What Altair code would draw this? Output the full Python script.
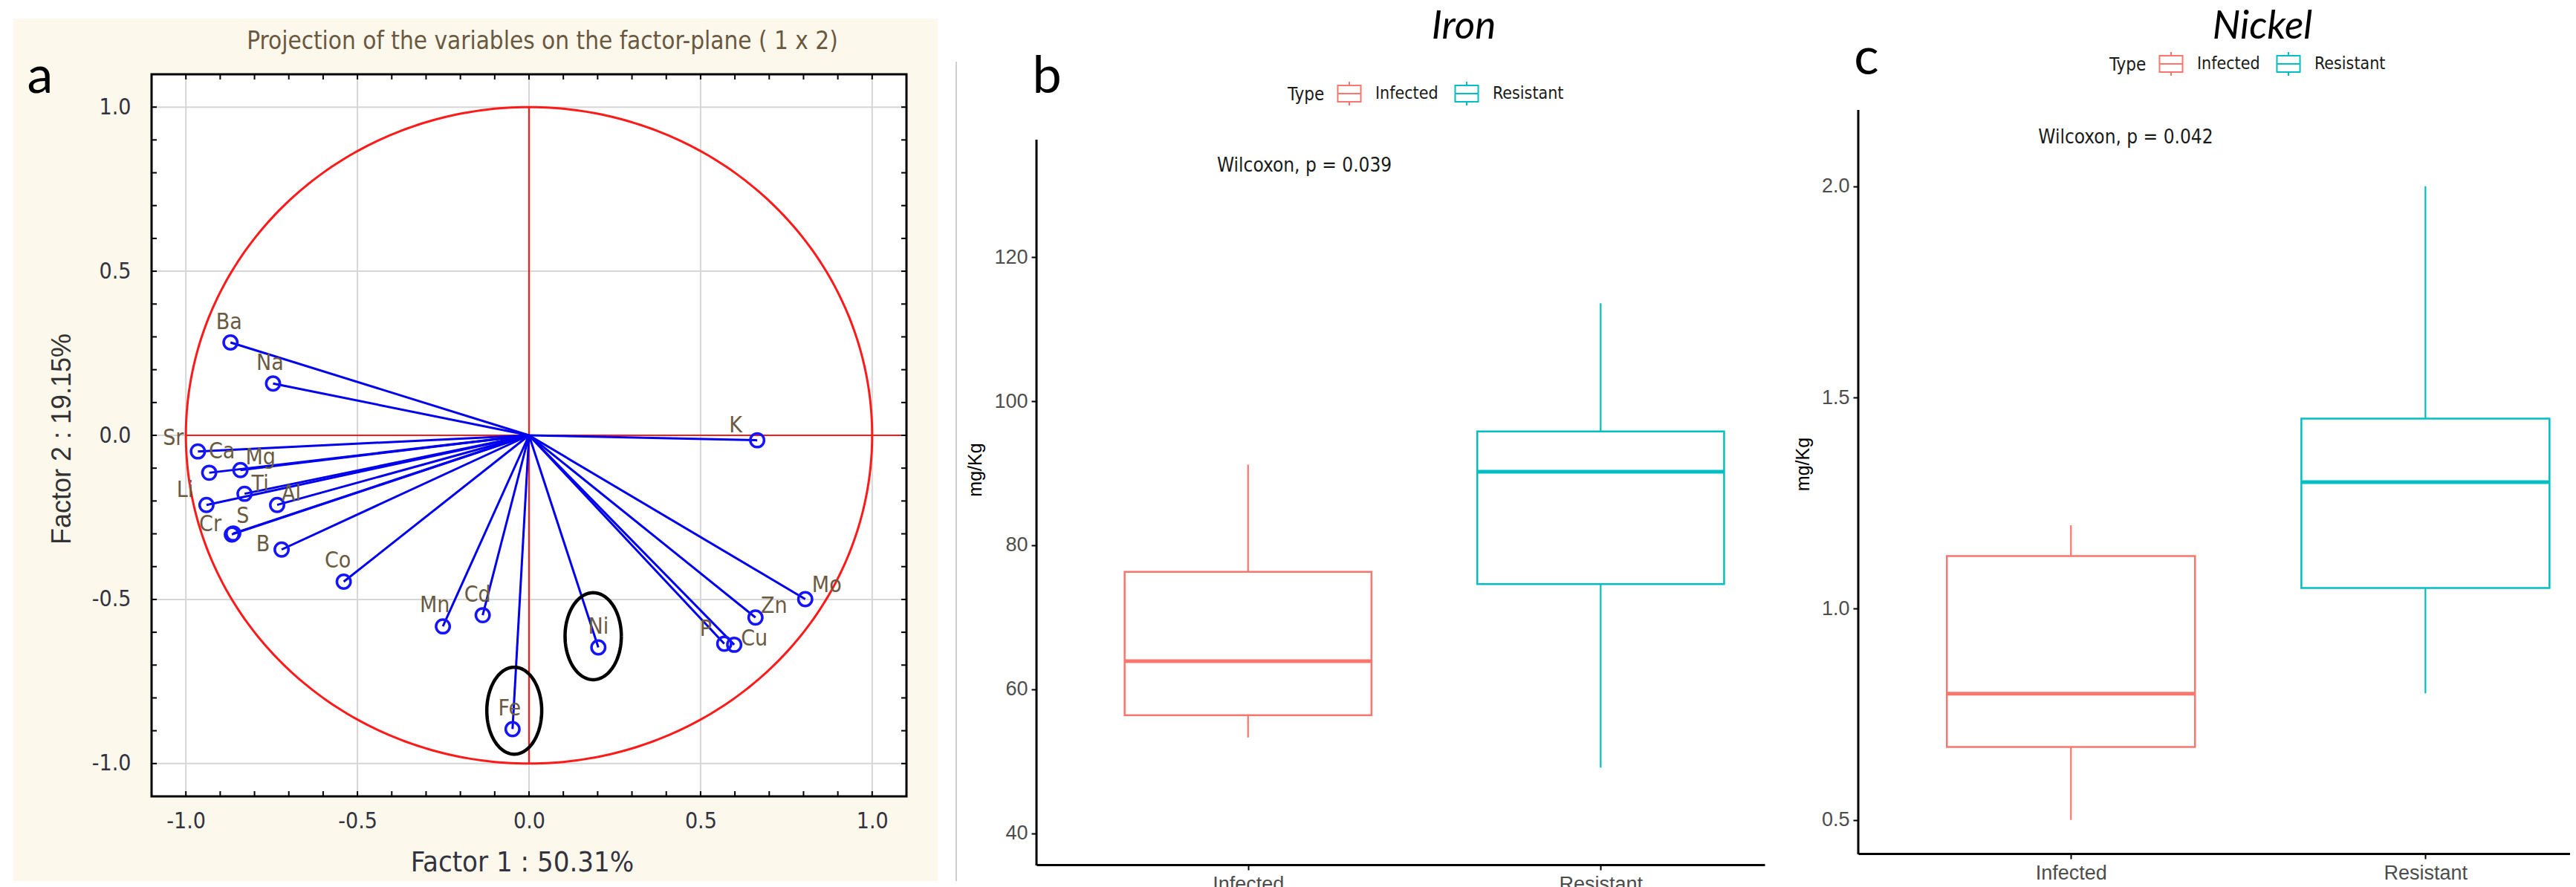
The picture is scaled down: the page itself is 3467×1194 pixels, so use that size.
import altair as alt
import pandas as pd

# ---------------- data: panel a (PCA variable projection) ----------------
VARS = ["Ba", "Na", "K", "Sr", "Ca", "Mg", "Li", "Ti", "Al", "Cr", "S",
        "B", "Co", "Mn", "Cd", "Fe", "Ni", "P", "Cu", "Zn", "Mo"]
F1 = [-0.870, -0.746, 0.665, -0.965, -0.932, -0.841, -0.940, -0.829, -0.734, -0.866, -0.862,
      -0.721, -0.540, -0.251, -0.135, -0.048, 0.202, 0.569, 0.598, 0.660, 0.805]
F2 = [0.283, 0.158, -0.015, -0.049, -0.114, -0.106, -0.212, -0.178, -0.212, -0.302, -0.299,
      -0.348, -0.446, -0.582, -0.548, -0.895, -0.646, -0.635, -0.638, -0.555, -0.499]
# label offsets (pixels) relative to each point
LABEL_DX = [-2, -4, -29, -33, 17, 27, -29, 21, 19, -29, 13, -25, -8, -11, -7, -4, 0, -25, 27, 25, 29]
LABEL_DY = [-27, -27, -20, -18, -28, -17, -20, -13, -15, -13, -23, -7, -28, -28, -27, -27, -27, -20, -8, -15, -18]
GRID_VALUES = [-1.0, -0.5, 0.0, 0.5, 1.0]
MINOR_TICKS = [round(-1.0 + 0.1 * i, 1) for i in range(21)]
# highlight ellipses: centre x, centre y, radius x, radius y
ELLIPSES = [(0.187, -0.612, 0.082, 0.1325), (-0.043, -0.839, 0.080, 0.1325)]

# ---------------- data: panels b, c (box plots) ----------------
TYPES = ["Infected", "Resistant"]
POS = [1, 2]
IRON_LOW = [53.3, 49.1]
IRON_Q1 = [56.4, 74.6]
IRON_MED = [63.9, 90.2]
IRON_Q3 = [76.3, 95.8]
IRON_HIGH = [91.2, 113.6]
NI_LOW = [0.50, 0.80]
NI_Q1 = [0.673, 1.049]
NI_MED = [0.799, 1.300]
NI_Q3 = [1.125, 1.450]
NI_HIGH = [1.198, 2.000]
IRON_TICKS = [40, 60, 80, 100, 120]
NI_TICKS = [0.5, 1.0, 1.5, 2.0]

NARROW = "'Liberation Sans Narrow', 'DejaVu Sans Condensed', sans-serif"
SANS = "'Liberation Sans', Arial, sans-serif"
CAL = "Lato, 'Open Sans', sans-serif"
BOX_HALF = 0.35
COLORS = ["#F8766D", "#00BFC4"]

one = pd.DataFrame({"k": [0]})

# ======================= panel a =======================
AW, AH = 1016, 972
XU, YU = AW / 2.2, AH / 2.2
xs = alt.Scale(domain=[-1.1, 1.1], nice=False, zero=False)
ys = alt.Scale(domain=[-1.1, 1.1], nice=False, zero=False)
AX_X = alt.Axis(values=GRID_VALUES, labelExpr="replace(format(datum.value, '.1f'), '\u2212', '-')",
                grid=False, ticks=False, domain=False, labelFont=NARROW, labelFontSize=30,
                labelColor="#333340", labelPadding=18, title=None, zindex=1)
AX_Y = alt.Axis(values=GRID_VALUES, labelExpr="replace(format(datum.value, '.1f'), '\u2212', '-')",
                grid=False, ticks=False, domain=False, labelFont=NARROW, labelFontSize=30,
                labelColor="#333340", labelPadding=28, title=None, zindex=1)

def X(f):
    return alt.X(f, scale=xs, axis=AX_X)

def Y(f):
    return alt.Y(f, scale=ys, axis=AX_Y)

pca = pd.DataFrame({"var": VARS, "f1": F1, "f2": F2, "dx": LABEL_DX, "dy": LABEL_DY})
pca["lx"] = pca["f1"] + pca["dx"] / XU
pca["ly"] = pca["f2"] - pca["dy"] / YU
pca["zero"] = 0.0
grid = pd.DataFrame({"g": GRID_VALUES})
minor = pd.DataFrame({"m": MINOR_TICKS})
red_lines = pd.DataFrame({"x1": [-1.0, 0.0], "x2": [1.1, 0.0], "y1": [0.0, -1.0], "y2": [0.0, 1.0]})

bounds_a = alt.Chart(one).mark_rect(opacity=0).encode(
    x=alt.value(-196), x2=alt.value(1084), y=alt.value(-92), y2=alt.value(1086))
cream = alt.Chart(one).mark_rect(color="#fdf8ec").encode(
    x=alt.value(-186), x2=alt.value(1058), y=alt.value(-75), y2=alt.value(1086))
white = alt.Chart(one).mark_rect(color="white").encode(
    x=alt.value(0), x2=alt.value(AW), y=alt.value(0), y2=alt.value(AH))
sep = alt.Chart(one).mark_rule(color="#cfcfcf", strokeWidth=2).encode(
    x=alt.value(1083), y=alt.value(-17), y2=alt.value(1086))
gx = alt.Chart(grid).mark_rule(color="#d6d6d6", strokeWidth=2).encode(
    x=X("g:Q"), y=alt.value(0), y2=alt.value(AH))
gy = alt.Chart(grid).mark_rule(color="#d6d6d6", strokeWidth=2).encode(
    y=Y("g:Q"), x=alt.value(0), x2=alt.value(AW))
circle = alt.Chart(alt.sequence(0, 361, 1, as_="t")).transform_calculate(
    cx="cos(datum.t * PI / 180)", cy="sin(datum.t * PI / 180)"
).mark_line(color="#ff1a1a", strokeWidth=3).encode(x=X("cx:Q"), y=Y("cy:Q"), order="t:Q")
red_axes = alt.Chart(red_lines).mark_rule(color="#ff1a1a", strokeWidth=2.2).encode(
    x=X("x1:Q"), x2="x2:Q", y=Y("y1:Q"), y2="y2:Q")
vectors = alt.Chart(pca).mark_rule(color="#0000ee", strokeWidth=3).encode(
    x=X("zero:Q"), x2="f1:Q", y=Y("zero:Q"), y2="f2:Q")
points = alt.Chart(pca).mark_point(shape="circle", filled=False, color="#1414ff",
                                   size=340, strokeWidth=3.5, opacity=1).encode(
    x=X("f1:Q"), y=Y("f2:Q"))
labels = alt.Chart(pca).mark_text(font=NARROW, fontSize=30, color="#6b5a42",
                                  align="center", baseline="middle").encode(
    x=X("lx:Q"), y=Y("ly:Q"), text="var:N")
ell_layers = []
for (cx, cy, rx, ry) in ELLIPSES:
    ell_layers.append(
        alt.Chart(alt.sequence(0, 361, 2, as_="t")).transform_calculate(
            ex=f"{cx} + {rx} * cos(datum.t * PI / 180)",
            ey=f"{cy} + {ry} * sin(datum.t * PI / 180)"
        ).mark_line(color="black", strokeWidth=4.5).encode(x=X("ex:Q"), y=Y("ey:Q"), order="t:Q"))
frame = alt.Chart(one).mark_rect(fillOpacity=0, stroke="black", strokeWidth=3).encode(
    x=alt.value(0), x2=alt.value(AW), y=alt.value(0), y2=alt.value(AH))
tick_b = alt.Chart(minor).mark_rule(color="black", strokeWidth=2).encode(
    x=X("m:Q"), y=alt.value(AH), y2=alt.value(AH - 7))
tick_t = alt.Chart(minor).mark_rule(color="black", strokeWidth=2).encode(
    x=X("m:Q"), y=alt.value(0), y2=alt.value(7))
tick_l = alt.Chart(minor).mark_rule(color="black", strokeWidth=2).encode(
    y=Y("m:Q"), x=alt.value(0), x2=alt.value(7))
tick_r = alt.Chart(minor).mark_rule(color="black", strokeWidth=2).encode(
    y=Y("m:Q"), x=alt.value(AW), x2=alt.value(AW - 7))
title_a = alt.Chart(one).mark_text(text="Projection of the variables on the factor-plane ( 1 x  2)",
                                   font=NARROW, fontSize=33, color="#6b5840",
                                   align="center", baseline="middle").encode(
    x=alt.value(526), y=alt.value(-44))
xtitle_a = alt.Chart(one).mark_text(text="Factor 1 : 50.31%", font=NARROW, fontSize=38,
                                    color="#333340", align="center", baseline="middle").encode(
    x=alt.value(499), y=alt.value(1062))
ytitle_a = alt.Chart(one).mark_text(text="Factor 2 : 19.15%", font=SANS, fontSize=36, angle=270,
                                    color="#333333", align="center", baseline="middle").encode(
    x=alt.value(-120), y=alt.value(491))
letter_a = alt.Chart(one).mark_text(text="a", font=CAL, fontSize=70, color="black",
                                    align="center", baseline="alphabetic").encode(
    x=alt.value(-150), y=alt.value(25))

panel_a = alt.layer(
    bounds_a, cream, white, sep, gx, gy, circle, red_axes, vectors, points, labels,
    *ell_layers, frame, tick_b, tick_t, tick_l, tick_r, title_a, xtitle_a, ytitle_a, letter_a
).properties(width=AW, height=AH)

# ======================= panels b, c =======================
LEGEND_PATH = "M-0.97,-0.69H0.97V0.69H-0.97Z M-0.97,0H0.97 M0,-0.69V-1 M0,0.69V1"


def box_panel(low, q1, med, q3, high, ticks, fmt, domain_x, domain_y, W, H, axis_top, bounds,
              legend_y, name, name_xy, letter_xy, wil_text, wil_xy):
    df = pd.DataFrame({"Type": TYPES, "pos": POS, "low": low, "q1": q1,
                       "med": med, "q3": q3, "high": high})
    sx = alt.Scale(domain=domain_x, nice=False, zero=False)
    sy = alt.Scale(domain=domain_y, nice=False, zero=False)
    ax_x = alt.Axis(values=POS, labelExpr="datum.value == 1 ? 'Infected' : 'Resistant'",
                    title=None, grid=False, domainColor="black", domainWidth=3,
                    tickColor="black", tickWidth=2, tickSize=7, labelFont=SANS,
                    labelFontSize=27, labelColor="#4d4d4d", labelPadding=6)
    ax_y = alt.Axis(values=ticks, format=fmt, title="mg/Kg", titleFont=SANS, titleFontSize=25,
                    titleFontWeight="normal", titleColor="black", titlePadding=12,
                    grid=False, domain=False, tickColor="black",
                    tickWidth=2, tickSize=7, labelFont=SANS, labelFontSize=27,
                    labelColor="#4d4d4d", labelPadding=5)
    col = alt.Scale(domain=TYPES, range=COLORS)
    leg = alt.Legend(
        title="Type", orient="none", legendX=338, legendY=legend_y, direction="horizontal",
        titleOrient="left", symbolType=LEGEND_PATH, symbolSize=1024, symbolStrokeWidth=2,
        symbolFillColor="white", labelFont=NARROW, labelFontSize=23, labelColor="#1a1a1a",
        titleFont=NARROW, titleFontSize=24, titleFontWeight="normal", titleColor="#1a1a1a",
        titlePadding=16, labelOffset=18, columnPadding=18)
    stroke = alt.Stroke("Type:N", scale=col, legend=leg)
    base = alt.Chart(df).transform_calculate(left=f"datum.pos - {BOX_HALF}",
                                             right=f"datum.pos + {BOX_HALF}")
    whisk = base.mark_rule(strokeWidth=2.2).encode(
        x=alt.X("pos:Q", scale=sx, axis=ax_x), y=alt.Y("low:Q", scale=sy, axis=ax_y), y2="high:Q",
        stroke=stroke)
    box = base.mark_rect(fill="white", strokeWidth=2.5).encode(
        x=alt.X("left:Q", scale=sx, axis=ax_x), x2="right:Q",
        y=alt.Y("q1:Q", scale=sy, axis=ax_y), y2="q3:Q", stroke=stroke)
    median = base.mark_rule(strokeWidth=5).encode(
        x=alt.X("left:Q", scale=sx, axis=ax_x), x2="right:Q",
        y=alt.Y("med:Q", scale=sy, axis=ax_y), stroke=stroke)
    yline = alt.Chart(one).mark_rule(color="black", strokeWidth=3).encode(
        x=alt.value(0), y=alt.value(axis_top), y2=alt.value(H + 1))
    wdf = pd.DataFrame({"x": [wil_xy[0]], "y": [wil_xy[1]], "t": [wil_text]})
    wil = alt.Chart(wdf).mark_text(font=NARROW, fontSize=26, color="#1a1a1a", align="left",
                                   baseline="middle").encode(
        x=alt.X("x:Q", scale=sx, axis=ax_x), y=alt.Y("y:Q", scale=sy, axis=ax_y), text="t:N")
    ttl = alt.Chart(one).mark_text(text=name, font=CAL, fontSize=53, fontStyle="italic",
                                   color="black", align="center", baseline="alphabetic").encode(
        x=alt.value(name_xy[0]), y=alt.value(name_xy[1]))
    let = alt.Chart(one).mark_text(text=letter_xy[2], font=CAL, fontSize=70, color="black",
                                   align="center", baseline="alphabetic").encode(
        x=alt.value(letter_xy[0]), y=alt.value(letter_xy[1]))
    bnd = alt.Chart(one).mark_rect(opacity=0).encode(
        x=alt.value(bounds[0]), x2=alt.value(bounds[1]), y=alt.value(bounds[2]), y2=alt.value(bounds[3]))
    return alt.layer(bnd, whisk, box, median, yline, wil, ttl, let).properties(width=W, height=H)


panel_b = box_panel(IRON_LOW, IRON_Q1, IRON_MED, IRON_Q3, IRON_HIGH, IRON_TICKS, "d",
                    [0.4, 2.465], [35.62, 145.42], 980, 1064, 88, (-107, 990, -92, 1086), 9,
                    "Iron", (575, -48), (14, 25, "b"), "Wilcoxon, p = 0.039", (0.912, 132.7))
panel_c = box_panel(NI_LOW, NI_Q1, NI_MED, NI_Q3, NI_HIGH, NI_TICKS, ".1f",
                    [0.4, 2.408], [0.4205, 2.2653], 958, 1049, 48, (-116, 958, -92, 1086), -31,
                    "Nickel", (544, -48), (11, 0, "c"), "Wilcoxon, p = 0.042", (0.908, 2.116))

chart = alt.hconcat(panel_a, panel_b, panel_c, spacing=0, padding=0,
                    background="white").resolve_scale(
    stroke="independent"
).resolve_legend(stroke="independent").configure_view(stroke=None)

chart.save("out.html", embed_options={"renderer": "svg", "actions": False})
